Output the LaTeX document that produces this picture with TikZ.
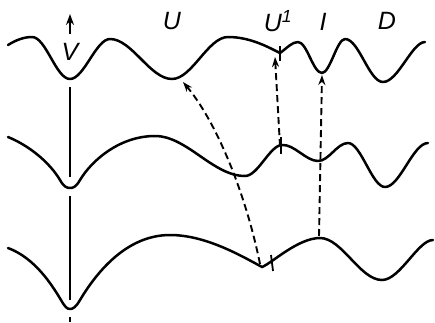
\documentclass[tikz,border=0pt]{standalone}
\usepackage{fontspec}
\setmainfont{Liberation Sans}
\usetikzlibrary{arrows.meta}
\begin{document}
\begin{tikzpicture}[x=1pt,y=-1pt,
  curve/.style={line width=2.5pt, line cap=round, line join=round},
  solid line/.style={line width=2.3pt},
  dline/.style={line width=1.9pt, dash pattern=on 7pt off 4pt, -{Stealth[length=10pt,width=7pt]}},
  tickm/.style={line width=1.8pt},
  lab/.style={font=\itshape\fontsize{25}{25}\selectfont, inner sep=0pt}]
\useasboundingbox (0,0) rectangle (435,322);
% top curve
\draw[curve] (8,45) .. controls (16,40) and (24,37) .. (32,37)
  .. controls (46,37) and (56,79) .. (70,79)
  .. controls (84,79) and (96,39) .. (110,39)
  .. controls (132,39) and (150,79) .. (172,79)
  .. controls (192,79) and (208,37) .. (228,37)
  .. controls (250,37) and (268,47) .. (280,53)
  .. controls (287,48) and (292,42) .. (298,42)
  .. controls (307,42) and (313,73) .. (322,73)
  .. controls (330,73) and (337,39) .. (345,39)
  .. controls (359,39) and (369,82) .. (383,82)
  .. controls (398,82) and (412,42) .. (425,42);
% middle curve
\draw[curve] (8,137) .. controls (30,146) and (50,163) .. (60,180)
  .. controls (64,187) and (67,188) .. (70,188)
  .. controls (73,188) and (76,187) .. (80,180)
  .. controls (92,160) and (120,136) .. (155,136)
  .. controls (187,136) and (213,176) .. (245,176)
  .. controls (258,176) and (270,145) .. (282,145)
  .. controls (294,144) and (306,161) .. (318,161)
  .. controls (329,161) and (337,143) .. (348,143)
  .. controls (361,143) and (372,187) .. (385,187)
  .. controls (400,187) and (413,143) .. (428,143);
% bottom curve
\draw[curve] (8,248) .. controls (35,258) and (52,285) .. (61,300)
  .. controls (65,307) and (67,309) .. (70,309)
  .. controls (73,309) and (76,307) .. (80,300)
  .. controls (95,275) and (125,235) .. (170,235)
  .. controls (205,235) and (240,255) .. (262,267)
  .. controls (272,263) and (298,238) .. (320,238)
  .. controls (342,238) and (360,280) .. (382,280)
  .. controls (400,280) and (418,240) .. (433,240);
% named points
\coordinate (umin) at (183,82);
\coordinate (uptick) at (275,57);
\coordinate (imin) at (322,75);
\coordinate (bmin) at (260,264);
\coordinate (mtick) at (280,146);
\coordinate (bpeak) at (319,236);
% vertical line
\draw[solid line] (70,87) -- (70,177);
\draw[solid line] (70,196) -- (70,300);
\draw[solid line] (70,317) -- (70,322);
% V arrow
\coordinate (vb) at (70,34);
\coordinate (vt) at (70,14);
\draw[line width=2pt, -{Stealth[length=11pt,width=8pt]}] (vb) -- (vt);
% ticks
\draw[tickm] (280,46) -- (280,61);
\draw[tickm] (281,137) -- (281,154);
\draw[tickm] (271,255) -- (273,271);
% dashed arrows
\draw[dline] (bmin) .. controls (245,190) and (215,120) .. (umin);
\draw[dline] (mtick) -- (uptick);
\draw[dline] (bpeak) -- (imin);
% labels
\node[lab] (lv) at (70,52) {V};
\node[lab] (lu) at (172,21) {U};
\node[lab] (lu1) at (278,21) {U\textsuperscript{1}};
\node[lab] (li) at (323,22) {I};
\node[lab] (ld) at (387,21) {D};
\end{tikzpicture}
\end{document}
